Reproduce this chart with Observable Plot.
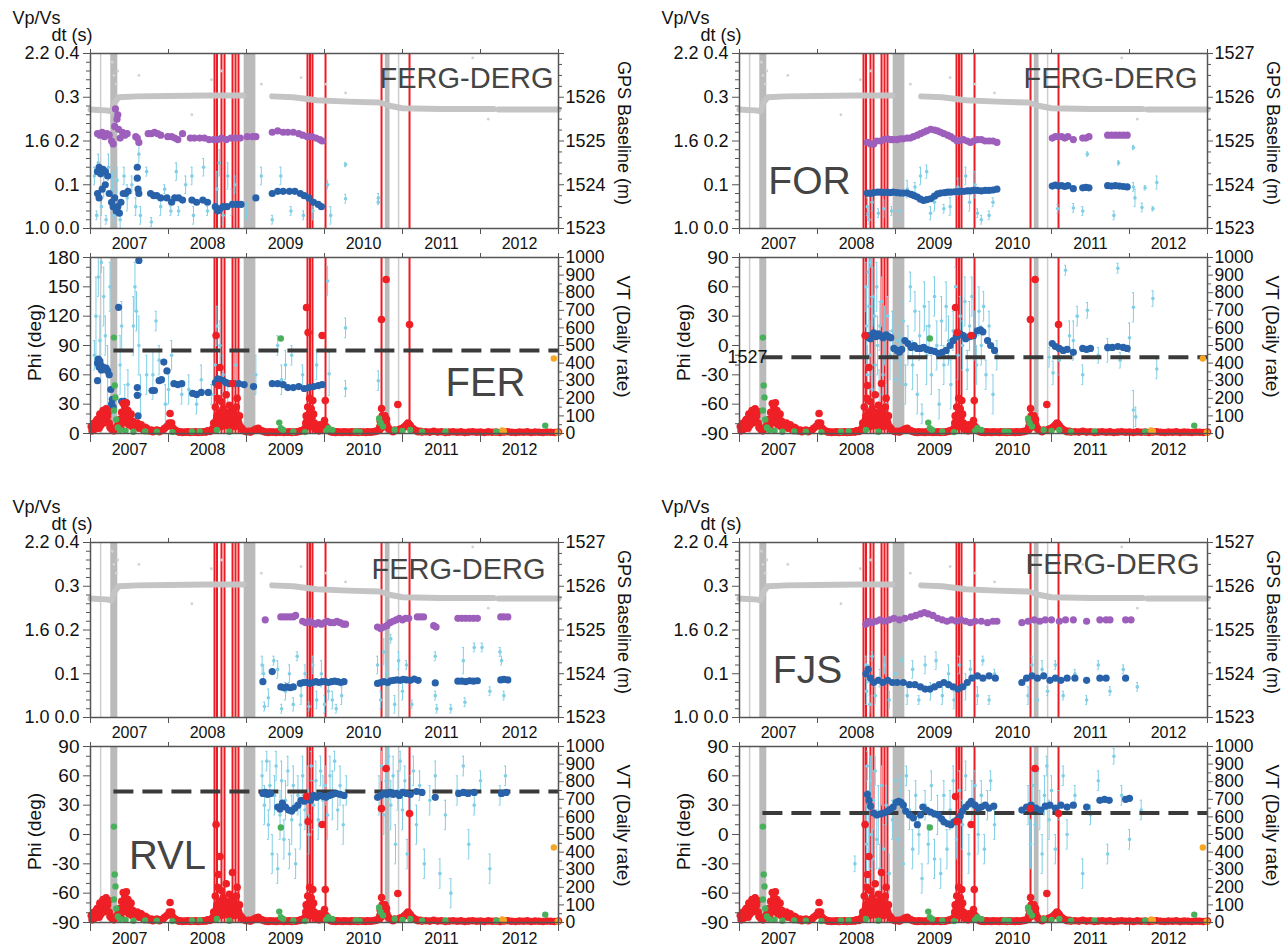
<!DOCTYPE html>
<html><head><meta charset="utf-8">
<script src="https://cdn.jsdelivr.net/npm/d3@7"></script>
<script src="https://cdn.jsdelivr.net/npm/@observablehq/plot@0.6"></script>
<style>
body{margin:0;background:#fff;}
#root{position:relative;width:1285px;height:950px;overflow:hidden;background:#fff;}
</style></head><body><div id="root"></div>
<script>
// ---------------- shared data ----------------
const yearTicks = [2007, 2008, 2009, 2010, 2011, 2012, 2013];
const yearLabels = ["2007", "2008", "2009", "2010", "2011", "2012"];
const yearLabelPos = [2007.5, 2008.5, 2009.5, 2010.5, 2011.5, 2012.5];
const dtTicks = [0, 0.1, 0.2, 0.3, 0.4];
const dtTickLabels = ["0.0", "0.1", "0.2", "0.3", "0.4"];
const vpvsTickLabels = ["1.0", null, "1.6", null, "2.2"];
const dtMinor = [0.02,0.04,0.06,0.08,0.12,0.14,0.16,0.18,0.22,0.24,0.26,0.28,0.32,0.34,0.36,0.38];
const vpvsRange = [1.0, 2.2];
const gpsRange = [1523, 1527];
const gpsTicks = [1523, 1524, 1525, 1526, 1527];
const gpsMinor = [1523.25,1523.5,1523.75,1524.25,1524.5,1524.75,1525.25,1525.5,1525.75,1526.25,1526.5,1526.75];
const vtRange = [0, 1000];
const vtTicks = [0, 100, 200, 300, 400, 500, 600, 700, 800, 900, 1000];
const vtMinor = [50, 150, 250, 350, 450, 550, 650, 750, 850, 950];
const phiTicksFER = [0, 30, 60, 90, 120, 150, 180];
const phiMinorFER = [10,20,40,50,70,80,100,110,130,140,160,170];
const phiTicksSym = [-90, -60, -30, 0, 30, 60, 90];
const phiMinorSym = [-80,-70,-50,-40,-20,-10,10,20,40,50,70,80];
const dashStartYear = 2007.3;

const redLines = [2008.59, 2008.622, 2008.679, 2008.718, 2008.821, 2008.859, 2008.897, 2009.782, 2009.814, 2009.846, 2010.013, 2010.731, 2011.09];
const grayBands = [[2007.26, 2007.35], [2008.97, 2009.12], [2010.78, 2010.84]];
const thinGrayLines = [2007.13, 2010.95];

const gpsBaseline = [[2007.0,1525.72],[2007.1,1525.71],[2007.2,1525.70],[2007.27,1525.68],[2007.31,1525.88],[2007.36,1526.0],[2007.6,1526.02],[2008.0,1526.03],[2008.5,1526.04],[2008.96,1526.04],[2009.1,null],[2009.33,1526.02],[2009.6,1526.0],[2009.9,1525.93],[2010.3,1525.9],[2010.7,1525.88],[2010.85,1525.8],[2011.0,1525.75],[2011.5,1525.73],[2012.17,1525.73],[2012.2,null],[2012.23,1525.72],[2013.0,1525.72]];
const gpsOutliers = [[2007.28,1526.8],[2007.30,1526.5],[2007.33,1526.3],[2007.35,1526.6],[2007.62,1526.5],[2008.30,1525.6],[2008.55,1526.4],[2008.68,1526.6],[2009.19,1526.3],[2009.70,1526.45],[2010.02,1526.3],[2010.27,1526.1],[2011.4,1526.5],[2011.9,1526.9],[2012.1,1525.5],[2012.7,1526.6]];

const vtRed = [[2007.01,40],[2007.02,15],[2007.03,20],[2007.04,55],[2007.05,60],[2007.06,25],[2007.07,30],[2007.08,75],[2007.09,80],[2007.10,50],[2007.11,30],[2007.12,110],[2007.13,45],[2007.14,70],[2007.15,95],[2007.16,130],[2007.17,60],[2007.18,90],[2007.19,115],[2007.20,140],[2007.21,70],[2007.22,100],[2007.23,125],[2007.24,60],[2007.25,35],[2007.26,30],[2007.28,20],[2007.30,15],[2007.32,25],
[2007.34,40],[2007.36,60],[2007.38,80],[2007.39,30],[2007.40,120],[2007.41,60],[2007.42,170],[2007.43,90],[2007.44,150],[2007.45,110],[2007.46,175],[2007.47,70],[2007.48,130],[2007.49,50],[2007.50,90],[2007.52,110],[2007.53,40],[2007.54,70],[2007.56,50],[2007.58,40],[2007.60,60],[2007.62,30],[2007.65,50],[2007.68,20],[2007.70,35],[2007.72,30],[2007.75,15],[2007.78,20],[2007.80,10],[2007.83,15],[2007.85,20],[2007.88,10],[2007.90,15],[2007.93,20],[2007.95,30],[2007.98,40],[2008.01,60],[2008.02,114],[2008.04,60],[2008.06,30],[2008.08,20],[2008.10,15],[2008.13,8],[2008.15,10],[2008.18,6],[2008.20,8],[2008.23,7],[2008.25,10],[2008.28,6],[2008.30,8],[2008.33,7],[2008.35,10],[2008.38,6],[2008.40,8],[2008.43,7],[2008.45,10],[2008.48,8],[2008.50,15],[2008.53,12],[2008.55,20],[2008.57,30],
[2008.58,60],[2008.59,30],[2008.60,150],[2008.61,557],[2008.615,80],[2008.62,100],[2008.63,200],[2008.635,50],[2008.64,273],[2008.65,120],[2008.655,60],[2008.66,375],[2008.67,90],[2008.675,40],[2008.68,180],[2008.69,70],[2008.70,140],[2008.71,50],[2008.72,80],[2008.73,120],[2008.74,220],[2008.75,60],[2008.76,110],[2008.77,40],[2008.78,160],[2008.79,90],[2008.80,70],[2008.81,130],[2008.82,284],[2008.83,60],[2008.84,120],[2008.85,40],[2008.86,90],[2008.87,150],[2008.88,200],[2008.89,80],[2008.90,60],[2008.91,100],[2008.92,40],[2008.94,30],[2008.95,20],[2008.97,15],[2009.00,10],[2009.03,12],[2009.05,8],[2009.08,15],[2009.10,20],[2009.12,25],[2009.15,30],[2009.17,20],[2009.20,15],[2009.23,10],[2009.25,8],[2009.28,6],[2009.30,10],[2009.33,7],[2009.35,8],[2009.38,6],[2009.40,10],[2009.43,7],[2009.45,12],[2009.48,6],[2009.50,8],[2009.53,7],[2009.55,10],[2009.58,6],[2009.60,8],[2009.63,7],[2009.65,10],[2009.68,12],[2009.70,15],[2009.73,20],[2009.75,30],
[2009.76,60],[2009.765,100],[2009.77,716],[2009.775,40],[2009.78,80],[2009.785,150],[2009.79,574],[2009.795,60],[2009.80,110],[2009.81,200],[2009.815,50],[2009.82,120],[2009.825,80],[2009.83,140],[2009.835,40],[2009.84,90],[2009.85,187],[2009.86,110],[2009.87,60],[2009.88,30],[2009.89,40],[2009.90,20],[2009.91,30],[2009.93,15],[2009.94,50],[2009.95,25],[2009.97,557],[2009.98,40],[2009.99,20],[2010.00,74],[2010.01,187],[2010.02,40],[2010.03,20],[2010.04,30],[2010.06,15],[2010.08,10],[2010.10,8],[2010.12,8],[2010.14,6],[2010.16,10],[2010.18,7],[2010.20,8],[2010.23,6],[2010.25,10],[2010.28,7],[2010.30,8],[2010.33,6],[2010.35,10],[2010.38,7],[2010.40,8],[2010.43,6],[2010.45,10],[2010.48,7],[2010.50,8],[2010.53,6],[2010.55,10],[2010.58,7],[2010.60,8],[2010.63,10],[2010.65,12],[2010.68,15],[2010.70,20],
[2010.71,40],[2010.715,70],[2010.72,80],[2010.725,30],[2010.73,648],[2010.732,142],[2010.74,100],[2010.745,50],[2010.75,60],[2010.755,90],[2010.76,90],[2010.765,40],[2010.77,70],[2010.775,100],[2010.79,875],[2010.785,60],[2010.795,80],[2010.80,50],[2010.82,30],[2010.84,20],[2010.86,15],[2010.88,10],[2010.90,20],[2010.94,165],[2010.95,20],[2010.97,25],[2011.00,30],[2011.02,35],[2011.03,40],[2011.05,50],[2011.06,45],[2011.07,60],[2011.08,55],[2011.09,619],[2011.10,45],[2011.11,35],[2011.12,30],[2011.14,25],[2011.15,20],[2011.18,15],[2011.20,10],[2011.23,12],[2011.25,8],
[2011.30,10],[2011.35,8],[2011.40,12],[2011.45,8],[2011.50,10],[2011.55,6],[2011.60,8],[2011.65,10],[2011.70,7],[2011.75,9],[2011.80,6],[2011.85,8],[2011.90,10],[2011.95,7],[2012.00,8],[2012.05,6],[2012.10,9],[2012.15,7],[2012.20,8],[2012.25,6],[2012.30,8],[2012.35,10],[2012.40,7],[2012.45,6],[2012.50,8],[2012.55,7],[2012.60,9],[2012.65,6],[2012.70,8],[2012.75,7],[2012.80,6],[2012.85,8],[2012.90,7],[2012.95,6],[2013.0,8]];
const vtGreen = [[2007.30,545],[2007.31,273],[2007.32,205],[2007.30,131],[2007.33,80],[2007.35,34],[2007.38,20],[2007.45,15],[2007.55,10],[2007.70,12],[2007.85,10],[2008.05,8],[2008.30,10],[2008.40,12],[2008.62,20],[2008.78,10],[2009.44,540],[2009.42,62],[2009.44,30],[2009.47,20],[2009.60,10],[2009.75,8],[2010.02,15],[2010.05,30],[2010.10,20],[2010.40,12],[2010.45,10],[2010.70,85],[2010.72,60],[2010.75,40],[2010.90,20],[2011.00,15],[2011.10,20],[2011.25,10],[2011.55,12],[2012.20,10],[2012.83,45]];
const vtOrange = [[2012.28,17],[2012.30,12],[2012.94,426],[2012.99,6]];

// ---------------- station data ----------------
const stationNames = ["FER", "FOR", "RVL", "FJS"];
const dashLevels = [85, -12, 44, 22];
const phiDomains = [[0, 180], [-90, 90], [-90, 90], [-90, 90]];

const ferVpvs = [[2007.09,1.65],[2007.12,1.64],[2007.15,1.66],[2007.18,1.63],[2007.21,1.65],[2007.24,1.64],[2007.27,1.60],[2007.29,1.58],[2007.31,1.70],[2007.32,1.82],[2007.34,1.75],[2007.35,1.78],[2007.36,1.68],[2007.38,1.62],[2007.41,1.66],[2007.44,1.64],[2007.47,1.65],[2007.58,1.63],[2007.60,1.62],[2007.62,1.59],[2007.74,1.65],[2007.78,1.65],[2007.82,1.66],[2007.86,1.65],[2007.90,1.64],[2007.99,1.63],[2008.04,1.63],[2008.08,1.62],[2008.12,1.61],[2008.18,1.65],[2008.28,1.62],[2008.33,1.62],[2008.40,1.62],[2008.46,1.62],[2008.52,1.61],[2008.58,1.61],[2008.63,1.61],[2008.68,1.62],[2008.74,1.61],[2008.80,1.62],[2008.86,1.62],[2008.92,1.62],[2009.01,1.63],[2009.08,1.63],[2009.12,1.63],[2009.33,1.66],[2009.40,1.67],[2009.47,1.66],[2009.53,1.66],[2009.60,1.66],[2009.67,1.65],[2009.72,1.64],[2009.78,1.63],[2009.84,1.63],[2009.89,1.62],[2009.94,1.61],[2009.97,1.60]];
const ferDt = [[2007.09,0.13],[2007.11,0.14],[2007.13,0.125],[2007.16,0.135],[2007.19,0.13],[2007.22,0.12],[2007.09,0.08],[2007.11,0.07],[2007.15,0.09],[2007.19,0.10],[2007.24,0.08],[2007.27,0.06],[2007.29,0.05],[2007.31,0.07],[2007.33,0.04],[2007.35,0.05],[2007.37,0.035],[2007.39,0.06],[2007.42,0.08],[2007.45,0.08],[2007.48,0.085],[2007.60,0.14],[2007.60,0.115],[2007.61,0.09],[2007.62,0.08],[2007.77,0.08],[2007.81,0.075],[2007.85,0.075],[2007.90,0.07],[2007.98,0.07],[2008.04,0.06],[2008.08,0.07],[2008.13,0.07],[2008.18,0.065],[2008.30,0.065],[2008.36,0.06],[2008.44,0.065],[2008.50,0.06],[2008.60,0.05],[2008.63,0.04],[2008.66,0.045],[2008.70,0.05],[2008.75,0.05],[2008.82,0.055],[2008.88,0.055],[2008.93,0.055],[2009.12,0.07],[2009.33,0.08],[2009.40,0.085],[2009.47,0.085],[2009.55,0.085],[2009.62,0.085],[2009.69,0.08],[2009.74,0.075],[2009.80,0.07],[2009.86,0.06],[2009.92,0.055],[2009.96,0.05]];
const ferDtErr = [[2007.05,0.12,0.02],[2007.08,0.03,0.01],[2007.10,0.15,0.02],[2007.14,0.05,0.02],[2007.17,0.10,0.03],[2007.20,0.02,0.01],[2007.23,0.14,0.03],[2007.28,0.09,0.04],[2007.30,0.03,0.02],[2007.34,0.11,0.03],[2007.38,0.02,0.02],[2007.43,0.12,0.02],[2007.47,0.07,0.03],[2007.53,0.10,0.02],[2007.58,0.05,0.02],[2007.62,0.17,0.02],[2007.64,0.03,0.02],[2007.72,0.13,0.01],[2007.78,0.015,0.01],[2007.90,0.05,0.02],[2007.95,0.09,0.01],[2008.03,0.04,0.01],[2008.10,0.13,0.02],[2008.13,0.04,0.01],[2008.22,0.10,0.02],[2008.30,0.12,0.02],[2008.32,0.03,0.02],[2008.45,0.14,0.02],[2008.50,0.04,0.01],[2008.62,0.09,0.04],[2008.65,0.15,0.03],[2008.70,0.03,0.02],[2008.76,0.12,0.03],[2008.81,0.06,0.03],[2008.85,0.10,0.02],[2009.00,0.04,0.02],[2009.19,0.12,0.02],[2009.33,0.02,0.01],[2009.44,0.12,0.02],[2009.57,0.04,0.01],[2009.73,0.03,0.01],[2009.85,0.04,0.02],[2010.04,0.10,0.01],[2010.08,0.03,0.02],[2010.27,0.146,0.005],[2010.27,0.068,0.01],[2010.69,0.07,0.01],[2010.69,0.06,0.005]];
const ferPhi = [[2007.09,72],[2007.10,76],[2007.11,68],[2007.12,74],[2007.13,70],[2007.14,65],[2007.16,68],[2007.18,66],[2007.20,67],[2007.22,64],[2007.24,60],[2007.09,54],[2007.26,45],[2007.27,30],[2007.28,35],[2007.29,27],[2007.36,129],[2007.40,33],[2007.43,33],[2007.46,31],[2007.60,39],[2007.60,47],[2007.61,18],[2007.62,177],[2007.79,44],[2007.82,44],[2007.88,54],[2007.91,55],[2007.94,73],[2007.98,64],[2008.07,51],[2008.12,50],[2008.17,51],[2008.31,41],[2008.36,40],[2008.42,42],[2008.51,42],[2008.60,52],[2008.63,56],[2008.66,55],[2008.70,54],[2008.74,52],[2008.78,51],[2008.83,51],[2008.90,51],[2008.97,50],[2009.09,48],[2009.33,51],[2009.40,51],[2009.47,50],[2009.53,47],[2009.60,47],[2009.67,48],[2009.74,46],[2009.80,47],[2009.86,48],[2009.92,49],[2009.97,50]];
const ferPhiErr = [[2007.05,80,15],[2007.07,120,40],[2007.10,160,20],[2007.12,95,25],[2007.14,175,10],[2007.17,140,30],[2007.19,100,20],[2007.22,60,30],[2007.25,150,25],[2007.27,20,15],[2007.38,70,30],[2007.40,110,25],[2007.44,30,20],[2007.48,50,15],[2007.55,110,30],[2007.57,150,25],[2007.59,125,20],[2007.62,90,30],[2007.64,40,20],[2007.72,60,20],[2007.80,60,25],[2007.84,115,10],[2007.88,75,15],[2007.96,30,20],[2008.00,45,15],[2008.04,80,15],[2008.17,40,10],[2008.26,45,15],[2008.36,30,10],[2008.42,55,15],[2008.55,40,10],[2008.60,70,30],[2008.62,110,20],[2008.66,90,25],[2008.70,60,20],[2008.76,40,15],[2008.86,70,15],[2009.12,60,20],[2009.40,90,10],[2009.45,55,15],[2009.50,70,15],[2009.58,80,10],[2009.72,60,10],[2009.90,70,15],[2010.04,156,15],[2010.06,61,22],[2010.27,108,10],[2010.27,46,8],[2010.69,54,10]];

const forVpvs = [[2008.64,1.59],[2008.68,1.58],[2008.72,1.58],[2008.76,1.60],[2008.81,1.60],[2008.85,1.61],[2008.90,1.615],[2008.94,1.61],[2008.97,1.61],[2009.02,1.61],[2009.06,1.615],[2009.10,1.615],[2009.15,1.62],[2009.19,1.62],[2009.23,1.63],[2009.28,1.64],[2009.32,1.65],[2009.36,1.66],[2009.40,1.67],[2009.45,1.68],[2009.50,1.675],[2009.54,1.67],[2009.58,1.66],[2009.62,1.65],[2009.67,1.64],[2009.71,1.63],[2009.75,1.615],[2009.79,1.60],[2009.83,1.605],[2009.87,1.61],[2009.92,1.60],[2009.96,1.59],[2010.00,1.60],[2010.05,1.61],[2010.10,1.61],[2010.15,1.60],[2010.20,1.60],[2010.25,1.60],[2010.30,1.59],[2011.01,1.62],[2011.05,1.63],[2011.09,1.63],[2011.13,1.63],[2011.17,1.62],[2011.21,1.63],[2011.28,1.61],[2011.40,1.62],[2011.44,1.62],[2011.48,1.63],[2011.72,1.64],[2011.77,1.64],[2011.82,1.64],[2011.87,1.64],[2011.92,1.64],[2011.97,1.64]];
const forDt = [[2008.64,0.081],[2008.68,0.08],[2008.72,0.082],[2008.77,0.083],[2008.81,0.083],[2008.85,0.082],[2008.89,0.083],[2008.93,0.082],[2008.97,0.083],[2009.02,0.082],[2009.06,0.081],[2009.10,0.081],[2009.15,0.081],[2009.20,0.078],[2009.24,0.075],[2009.28,0.072],[2009.32,0.067],[2009.36,0.064],[2009.40,0.066],[2009.45,0.068],[2009.50,0.074],[2009.54,0.079],[2009.58,0.081],[2009.63,0.082],[2009.67,0.083],[2009.71,0.083],[2009.76,0.084],[2009.80,0.084],[2009.84,0.085],[2009.88,0.085],[2009.92,0.086],[2009.96,0.086],[2010.00,0.087],[2010.05,0.087],[2010.10,0.086],[2010.15,0.087],[2010.20,0.087],[2010.25,0.088],[2010.30,0.09],[2011.01,0.097],[2011.05,0.099],[2011.09,0.097],[2011.13,0.098],[2011.17,0.096],[2011.21,0.098],[2011.28,0.091],[2011.40,0.093],[2011.44,0.094],[2011.48,0.093],[2011.72,0.098],[2011.77,0.097],[2011.82,0.098],[2011.87,0.097],[2011.92,0.096],[2011.97,0.095]];
const forDtErr = [[2008.64,0.05,0.02],[2008.65,0.035,0.01],[2008.66,0.02,0.01],[2008.70,0.06,0.02],[2008.78,0.035,0.01],[2008.85,0.045,0.02],[2008.95,0.04,0.01],[2009.05,0.04,0.02],[2009.15,0.09,0.02],[2009.25,0.095,0.01],[2009.32,0.12,0.02],[2009.40,0.13,0.015],[2009.45,0.035,0.015],[2009.50,0.06,0.02],[2009.62,0.045,0.01],[2009.70,0.05,0.02],[2009.80,0.095,0.02],[2009.90,0.12,0.02],[2009.95,0.06,0.02],[2010.02,0.10,0.03],[2010.05,0.035,0.01],[2010.10,0.02,0.01],[2010.20,0.03,0.01],[2010.25,0.06,0.01],[2011.08,0.045,0.01],[2011.28,0.047,0.01],[2011.40,0.04,0.01],[2011.46,0.17,0.005],[2011.80,0.03,0.01],[2011.86,0.15,0.005],[2012.05,0.185,0.005],[2012.05,0.095,0.01],[2012.07,0.07,0.02],[2012.16,0.048,0.01],[2012.20,0.093,0.005],[2012.35,0.105,0.015],[2012.30,0.045,0.005]];
const forPhi = [[2008.64,10],[2008.66,8],[2008.68,7],[2008.70,11],[2008.72,13],[2008.75,9],[2008.78,12],[2008.81,10],[2008.84,8],[2008.88,11],[2008.91,9],[2008.94,8],[2008.98,-3],[2009.02,-5],[2009.05,-7],[2009.08,-4],[2009.12,5],[2009.16,2],[2009.20,-2],[2009.24,0],[2009.28,-3],[2009.32,-3],[2009.36,-2],[2009.40,-4],[2009.45,-5],[2009.50,-6],[2009.55,-8],[2009.60,-7],[2009.65,-5],[2009.70,0],[2009.74,5],[2009.78,9],[2009.83,12],[2009.87,10],[2009.90,7],[2009.95,9],[2010.00,10],[2010.05,15],[2010.09,16],[2010.12,14],[2010.18,5],[2010.22,0],[2010.27,-5],[2011.01,2],[2011.05,-1],[2011.10,-3],[2011.15,-5],[2011.20,-4],[2011.28,-7],[2011.40,-3],[2011.45,-4],[2011.50,-3],[2011.72,-2],[2011.78,-2],[2011.85,-1],[2011.92,-2],[2011.97,-3]];
const forPhiErr = [[2008.62,60,25],[2008.63,20,40],[2008.64,-30,30],[2008.65,75,15],[2008.66,40,30],[2008.67,-10,35],[2008.68,85,5],[2008.69,10,40],[2008.70,-45,25],[2008.71,50,30],[2008.73,30,20],[2008.74,-20,30],[2008.76,60,25],[2008.77,0,30],[2008.79,-50,25],[2008.80,20,25],[2008.82,45,25],[2008.84,-30,20],[2008.86,10,30],[2008.88,-60,20],[2008.90,30,20],[2008.93,-10,25],[2008.96,15,20],[2009.00,-35,20],[2009.03,5,15],[2009.06,-15,25],[2009.10,25,20],[2009.13,-40,20],[2009.16,0,20],[2009.19,60,15],[2009.22,-20,25],[2009.25,35,20],[2009.28,-50,20],[2009.31,10,25],[2009.34,-70,10],[2009.37,40,25],[2009.40,-10,30],[2009.43,20,25],[2009.46,-30,20],[2009.50,50,20],[2009.53,0,25],[2009.56,-60,15],[2009.59,25,25],[2009.62,-20,20],[2009.65,40,25],[2009.68,5,25],[2009.71,-40,25],[2009.74,15,20],[2009.77,60,20],[2009.80,-10,25],[2009.83,30,20],[2009.86,0,25],[2009.89,45,25],[2009.92,-25,20],[2009.95,20,25],[2009.98,50,20],[2010.01,10,25],[2010.04,-20,20],[2010.07,35,25],[2010.10,0,20],[2010.13,40,15],[2010.16,-30,15],[2010.20,20,15],[2010.25,-50,20],[2010.30,-10,15],[2010.97,-12,10],[2011.02,-28,12],[2011.10,-15,15],[2011.18,77,5],[2011.23,10,15],[2011.28,5,20],[2011.33,30,10],[2011.40,-30,10],[2011.46,36,8],[2011.60,-10,8],[2011.72,-5,12],[2011.85,79,5],[2011.88,-15,8],[2012.00,8,15],[2012.05,39,15],[2012.05,-66,20],[2012.08,-73,10],[2012.30,48,8],[2012.35,-24,10]];

const rvlVpvs = [[2009.24,1.67],[2009.44,1.69],[2009.48,1.69],[2009.52,1.69],[2009.56,1.69],[2009.60,1.69],[2009.63,1.70],[2009.72,1.66],[2009.76,1.65],[2009.80,1.66],[2009.84,1.65],[2009.88,1.64],[2009.92,1.65],[2009.96,1.64],[2010.00,1.65],[2010.04,1.66],[2010.08,1.65],[2010.12,1.65],[2010.16,1.66],[2010.20,1.65],[2010.24,1.64],[2010.27,1.64],[2010.68,1.62],[2010.72,1.61],[2010.76,1.62],[2010.80,1.63],[2010.84,1.65],[2010.88,1.66],[2010.92,1.67],[2010.96,1.68],[2011.00,1.67],[2011.04,1.68],[2011.08,1.68],[2011.19,1.69],[2011.23,1.69],[2011.27,1.69],[2011.40,1.63],[2011.43,1.62],[2011.71,1.68],[2011.76,1.68],[2011.81,1.68],[2011.86,1.68],[2011.91,1.68],[2011.96,1.68],[2012.26,1.69],[2012.30,1.69],[2012.35,1.69]];
const rvlDt = [[2009.21,0.082],[2009.33,0.105],[2009.44,0.07],[2009.48,0.068],[2009.52,0.07],[2009.56,0.068],[2009.60,0.07],[2009.69,0.078],[2009.73,0.08],[2009.77,0.08],[2009.81,0.078],[2009.85,0.08],[2009.89,0.082],[2009.93,0.08],[2009.97,0.082],[2010.01,0.082],[2010.05,0.08],[2010.09,0.082],[2010.13,0.083],[2010.17,0.082],[2010.21,0.08],[2010.25,0.082],[2010.68,0.078],[2010.72,0.08],[2010.76,0.082],[2010.81,0.08],[2010.85,0.084],[2010.89,0.085],[2010.93,0.086],[2010.97,0.085],[2011.01,0.087],[2011.05,0.086],[2011.10,0.085],[2011.15,0.088],[2011.20,0.085],[2011.42,0.079],[2011.71,0.083],[2011.76,0.083],[2011.81,0.082],[2011.86,0.084],[2011.91,0.083],[2011.96,0.084],[2012.26,0.086],[2012.30,0.087],[2012.35,0.086]];
const rvlDtErr = [[2009.20,0.12,0.02],[2009.22,0.10,0.02],[2009.23,0.025,0.01],[2009.28,0.045,0.02],[2009.35,0.13,0.01],[2009.40,0.11,0.02],[2009.45,0.02,0.01],[2009.50,0.06,0.02],[2009.55,0.10,0.02],[2009.60,0.03,0.015],[2009.65,0.14,0.01],[2009.70,0.05,0.02],[2009.75,0.10,0.02],[2009.80,0.025,0.01],[2009.85,0.12,0.02],[2009.90,0.04,0.02],[2009.96,0.10,0.03],[2010.00,0.03,0.02],[2010.05,0.06,0.02],[2010.10,0.04,0.02],[2010.15,0.02,0.01],[2010.22,0.05,0.02],[2010.68,0.12,0.02],[2010.72,0.04,0.02],[2010.76,0.15,0.03],[2010.80,0.10,0.03],[2010.85,0.18,0.01],[2010.90,0.03,0.02],[2010.95,0.13,0.02],[2011.00,0.06,0.02],[2011.05,0.12,0.01],[2011.12,0.03,0.01],[2011.42,0.14,0.01],[2011.42,0.05,0.01],[2011.44,0.02,0.01],[2011.62,0.02,0.01],[2011.78,0.13,0.03],[2011.80,0.035,0.01],[2011.92,0.16,0.01],[2012.02,0.16,0.01],[2012.12,0.06,0.01],[2012.25,0.15,0.01],[2012.27,0.13,0.01],[2012.30,0.05,0.01]];
const rvlPhi = [[2009.21,42],[2009.24,43],[2009.27,41],[2009.31,42],[2009.40,28],[2009.43,26],[2009.46,32],[2009.50,28],[2009.54,25],[2009.58,24],[2009.62,27],[2009.66,30],[2009.70,35],[2009.74,34],[2009.78,36],[2009.82,35],[2009.86,40],[2009.90,38],[2009.94,40],[2009.98,39],[2010.02,38],[2010.06,40],[2010.10,41],[2010.15,42],[2010.20,41],[2010.25,40],[2010.68,38],[2010.72,40],[2010.76,42],[2010.80,41],[2010.84,43],[2010.88,41],[2010.92,42],[2010.96,40],[2011.00,43],[2011.05,42],[2011.10,41],[2011.18,44],[2011.25,43],[2011.42,38],[2011.72,42],[2011.78,43],[2011.84,42],[2011.92,43],[2012.27,42],[2012.33,43]];
const rvlPhiErr = [[2009.20,60,15],[2009.23,30,20],[2009.26,75,10],[2009.28,10,15],[2009.30,50,25],[2009.33,-20,20],[2009.36,40,20],[2009.38,70,15],[2009.40,-35,15],[2009.43,20,25],[2009.45,55,20],[2009.48,-5,20],[2009.50,35,20],[2009.53,65,15],[2009.55,-20,15],[2009.58,15,25],[2009.60,50,20],[2009.63,-30,15],[2009.66,40,20],[2009.69,10,25],[2009.72,60,20],[2009.75,25,20],[2009.78,45,25],[2009.80,0,20],[2009.83,70,15],[2009.86,30,25],[2009.89,55,20],[2009.92,15,20],[2009.95,65,15],[2009.98,35,25],[2010.01,50,20],[2010.04,20,25],[2010.07,60,20],[2010.10,40,25],[2010.13,75,10],[2010.17,25,20],[2010.20,50,20],[2010.24,10,20],[2010.28,45,15],[2010.70,40,20],[2010.73,70,15],[2010.76,20,20],[2010.79,55,20],[2010.82,80,10],[2010.85,30,25],[2010.88,60,20],[2010.91,-10,20],[2010.94,45,20],[2010.97,75,10],[2011.00,25,20],[2011.03,55,15],[2011.06,-20,15],[2011.10,40,20],[2011.14,65,15],[2011.18,10,20],[2011.22,50,15],[2011.28,-30,15],[2011.35,35,15],[2011.42,60,15],[2011.48,-40,15],[2011.55,20,15],[2011.62,-60,15],[2011.70,45,15],[2011.78,70,10],[2011.85,-10,15],[2011.92,30,10],[2012.00,55,10],[2012.12,-35,15],[2012.25,40,10],[2012.32,60,10]];

const fjsVpvs = [[2008.62,1.64],[2008.66,1.66],[2008.70,1.65],[2008.75,1.66],[2008.80,1.67],[2008.86,1.66],[2008.92,1.67],[2008.98,1.68],[2009.05,1.67],[2009.12,1.68],[2009.20,1.69],[2009.26,1.70],[2009.32,1.71],[2009.37,1.72],[2009.42,1.71],[2009.48,1.70],[2009.54,1.68],[2009.60,1.67],[2009.66,1.66],[2009.72,1.67],[2009.78,1.66],[2009.84,1.67],[2009.90,1.66],[2009.96,1.65],[2010.02,1.66],[2010.10,1.66],[2010.18,1.65],[2010.25,1.66],[2010.30,1.66],[2010.62,1.65],[2010.70,1.66],[2010.78,1.67],[2010.85,1.66],[2010.92,1.67],[2011.00,1.67],[2011.10,1.66],[2011.18,1.67],[2011.28,1.67],[2011.45,1.66],[2011.62,1.67],[2011.70,1.67],[2011.75,1.67],[2011.95,1.67],[2012.02,1.67]];
const fjsDt = [[2008.62,0.10],[2008.65,0.11],[2008.68,0.09],[2008.72,0.08],[2008.78,0.085],[2008.84,0.08],[2008.90,0.085],[2008.96,0.08],[2009.02,0.08],[2009.10,0.08],[2009.18,0.075],[2009.25,0.075],[2009.32,0.07],[2009.38,0.065],[2009.44,0.065],[2009.50,0.07],[2009.56,0.075],[2009.62,0.08],[2009.68,0.075],[2009.74,0.07],[2009.80,0.065],[2009.86,0.07],[2009.92,0.08],[2009.98,0.09],[2010.05,0.095],[2010.12,0.09],[2010.20,0.095],[2010.28,0.09],[2010.62,0.08],[2010.68,0.09],[2010.75,0.095],[2010.82,0.09],[2010.90,0.095],[2010.98,0.085],[2011.05,0.09],[2011.12,0.085],[2011.20,0.09],[2011.30,0.09],[2011.45,0.085],[2011.62,0.09],[2011.70,0.09],[2011.95,0.09]];
const fjsDtErr = [[2008.62,0.12,0.02],[2008.63,0.06,0.03],[2008.65,0.10,0.02],[2008.67,0.03,0.02],[2008.70,0.14,0.01],[2008.74,0.05,0.02],[2008.80,0.09,0.02],[2008.86,0.12,0.02],[2008.92,0.04,0.02],[2009.00,0.10,0.02],[2009.08,0.13,0.01],[2009.15,0.05,0.02],[2009.22,0.11,0.02],[2009.30,0.04,0.01],[2009.38,0.12,0.02],[2009.45,0.06,0.02],[2009.52,0.13,0.02],[2009.60,0.05,0.02],[2009.68,0.10,0.02],[2009.75,0.04,0.02],[2009.82,0.12,0.02],[2009.90,0.07,0.03],[2009.96,0.11,0.02],[2010.05,0.05,0.02],[2010.12,0.13,0.01],[2010.20,0.04,0.01],[2010.27,0.10,0.01],[2010.70,0.05,0.02],[2010.75,0.12,0.02],[2010.82,0.04,0.02],[2010.88,0.11,0.02],[2010.95,0.06,0.01],[2011.05,0.12,0.01],[2011.15,0.05,0.01],[2011.30,0.10,0.01],[2011.45,0.04,0.01],[2011.60,0.12,0.01],[2011.75,0.06,0.01],[2011.92,0.11,0.01],[2012.10,0.07,0.01]];
const fjsPhi = [[2008.64,41],[2008.66,35],[2008.68,29],[2008.72,22],[2008.76,20],[2008.81,21],[2008.85,22],[2008.90,24],[2008.94,26],[2008.97,28],[2009.01,33],[2009.04,34],[2009.07,33],[2009.10,30],[2009.13,24],[2009.18,20],[2009.23,17],[2009.28,10],[2009.32,20],[2009.35,28],[2009.40,25],[2009.45,23],[2009.50,21],[2009.55,20],[2009.59,16],[2009.62,13],[2009.67,11],[2009.71,10],[2009.75,13],[2009.79,15],[2009.83,19],[2009.86,24],[2009.90,28],[2009.94,31],[2009.97,34],[2010.02,30],[2010.06,27],[2010.10,28],[2010.15,30],[2010.20,27],[2010.26,29],[2010.62,25],[2010.68,28],[2010.74,30],[2010.80,27],[2010.86,25],[2010.92,29],[2010.98,30],[2011.05,27],[2011.12,30],[2011.20,28],[2011.28,30],[2011.45,28],[2011.62,35],[2011.68,36],[2011.74,35],[2011.95,36],[2012.00,37]];
const fjsPhiErr = [[2008.48,-30,8],[2008.62,40,30],[2008.63,-10,40],[2008.64,70,15],[2008.65,10,35],[2008.66,-40,25],[2008.68,55,25],[2008.69,0,35],[2008.71,-25,30],[2008.72,35,30],[2008.74,65,15],[2008.76,-5,30],[2008.78,20,30],[2008.80,-35,25],[2008.82,50,20],[2008.85,-15,25],[2008.88,30,20],[2008.92,-40,20],[2008.96,15,20],[2009.00,55,15],[2009.03,-5,20],[2009.06,45,15],[2009.10,-30,15],[2009.14,60,10],[2009.18,25,20],[2009.22,-15,20],[2009.26,40,15],[2009.30,0,20],[2009.34,-45,15],[2009.38,30,15],[2009.42,-10,20],[2009.46,50,15],[2009.50,-25,20],[2009.54,20,20],[2009.58,-40,15],[2009.62,40,15],[2009.66,-15,20],[2009.70,25,20],[2009.74,55,15],[2009.78,-5,20],[2009.82,45,20],[2009.86,10,25],[2009.90,60,15],[2009.94,-20,20],[2009.98,35,20],[2010.02,50,15],[2010.06,0,20],[2010.10,40,15],[2010.14,-15,15],[2010.18,30,15],[2010.22,55,10],[2010.27,10,15],[2010.70,30,20],[2010.73,-10,25],[2010.76,50,20],[2010.79,10,20],[2010.82,65,15],[2010.85,25,20],[2010.88,-20,20],[2010.91,40,20],[2010.94,70,10],[2010.97,15,20],[2011.00,45,15],[2011.05,-15,15],[2011.10,30,15],[2011.15,60,10],[2011.20,0,15],[2011.30,40,10],[2011.40,-40,15],[2011.50,20,10],[2011.60,55,10],[2011.72,-20,10],[2011.80,80,8],[2011.90,40,10],[2012.00,-5,10],[2012.15,25,10]];

// ---------------- layout / style ----------------
const FONT = '"Liberation Sans", Arial, Helvetica, sans-serif';
const C = {band: "#bababa", thin: "#cdcdcd", red: "#ec1c24", gps: "#c4c4c4", gpsOut: "#d2d2d2", cyan: "#80cfe6",
  purple: "#9d5fbb", blue: "#2862aa", redDot: "#ee2026", green: "#49b05a", orange: "#f5a623", frame: "#555", dash: "#3a3a3a", text: "#444"};

const panels = [
  {st: 0, col: 0, row: 0, vpvs: ferVpvs, dt: ferDt, dtErr: ferDtErr, phi: ferPhi, phiErr: ferPhiErr, phiTicks: phiTicksFER, phiMinor: phiMinorFER,
   hide1527: true, labelIn: "bottom", lab: {dx: 395, dy: 126}, ferg: {dx: -5, dy: 25}},
  {st: 1, col: 1, row: 0, vpvs: forVpvs, dt: forDt, dtErr: forDtErr, phi: forPhi, phiErr: forPhiErr, phiTicks: phiTicksSym, phiMinor: phiMinorSym,
   hide1527: false, labelIn: "top", lab: {dx: 70, dy: 128}, ferg: {dx: -10, dy: 25}, stray: true},
  {st: 2, col: 0, row: 1, vpvs: rvlVpvs, dt: rvlDt, dtErr: rvlDtErr, phi: rvlPhi, phiErr: rvlPhiErr, phiTicks: phiTicksSym, phiMinor: phiMinorSym,
   hide1527: false, labelIn: "bottom", lab: {dx: 77, dy: 110}, ferg: {dx: -13, dy: 27}},
  {st: 3, col: 1, row: 1, vpvs: fjsVpvs, dt: fjsDt, dtErr: fjsDtErr, phi: fjsPhi, phiErr: fjsPhiErr, phiTicks: phiTicksSym, phiMinor: phiMinorSym,
   hide1527: false, labelIn: "top", lab: {dx: 68, dy: 128}, ferg: {dx: -8, dy: 22}}
];
const COL_LEFT = [0, 649], COL_W = [640, 636], ROW_TOP = [0, 489];

const vpvsToDt = v => (v - vpvsRange[0]) / (vpvsRange[1] - vpvsRange[0]) * (dtTicks[4] - dtTicks[0]);
const gpsToDt = g => g == null ? NaN : (g - gpsRange[0]) / (gpsRange[1] - gpsRange[0]) * (dtTicks[4] - dtTicks[0]);
const near = (arr, v) => arr.findIndex(a => Math.abs(a - v) < 1e-7);

const root = document.getElementById("root");
function place(el, left, top) {
  el.style.position = "absolute"; el.style.left = left + "px"; el.style.top = top + "px";
  root.appendChild(el);
}
function label(str, o) {
  return Plot.text([str], {text: d => d, textAnchor: "middle", lineAnchor: "middle", fill: "#111", ...o});
}

function errorMarks(data, yf) {
  return [
    Plot.ruleX(data, {x: d => d[0], y1: d => yf(d[1] - d[2]), y2: d => yf(d[1] + d[2]), stroke: C.cyan, strokeWidth: 1}),
    Plot.ruleY(data, {y: d => yf(d[1] + d[2]), x1: d => d[0] - 0.012, x2: d => d[0] + 0.012, stroke: C.cyan, strokeWidth: 1}),
    Plot.ruleY(data, {y: d => yf(d[1] - d[2]), x1: d => d[0] - 0.012, x2: d => d[0] + 0.012, stroke: C.cyan, strokeWidth: 1}),
    Plot.dot(data, {x: d => d[0], y: d => yf(d[1]), r: 1.8, fill: C.cyan})
  ];
}

function xAxes(tickLen, pad) {
  return [
    Plot.axisX({ticks: yearTicks, tickSize: tickLen, tickFormat: () => "", label: null, stroke: C.frame}),
    Plot.axisX({anchor: "top", ticks: yearTicks, tickSize: 5, tickFormat: () => "", label: null, stroke: C.frame}),
    Plot.axisX({ticks: yearLabelPos, tickSize: 0, tickPadding: pad, fontSize: 16, label: null,
      tickFormat: d => yearLabels[near(yearLabelPos, d)]})
  ];
}

function topPlot(p) {
  const W = COL_W[p.col];
  const gpsPos = gpsTicks.map(gpsToDt);
  const marks = [
    Plot.rect(grayBands, {x1: d => d[0], x2: d => d[1], fill: C.band}),
    Plot.ruleX(thinGrayLines, {stroke: C.thin, strokeWidth: 1.5}),
    Plot.ruleX(redLines, {stroke: C.red, strokeWidth: 2}),
    Plot.line(gpsBaseline, {x: d => d[0], y: d => gpsToDt(d[1]), stroke: C.gps, strokeWidth: 6}),
    Plot.dot(gpsOutliers, {x: d => d[0], y: d => gpsToDt(d[1]), r: 1.4, fill: C.gpsOut}),
    ...errorMarks(p.dtErr, v => v),
    Plot.dot(p.vpvs, {x: d => d[0], y: d => vpvsToDt(d[1]), r: 3.6, fill: C.purple}),
    Plot.dot(p.dt, {x: d => d[0], y: d => d[1], r: 3.6, fill: C.blue}),
    Plot.frame({stroke: C.frame, strokeWidth: 1.5}),
    Plot.axisY({ticks: dtTicks, tickSize: 7, tickPadding: 4, fontSize: 18, label: null, stroke: C.frame,
      tickFormat: d => { const i = near(dtTicks, d); return vpvsTickLabels[i] ? vpvsTickLabels[i] + " " + dtTickLabels[i] : dtTickLabels[i]; }}),
    Plot.axisY({ticks: dtMinor, tickSize: 4, tickFormat: () => "", label: null, stroke: C.frame}),
    Plot.axisY({anchor: "right", ticks: gpsPos, tickSize: 5, tickPadding: 2, fontSize: 18, label: null, stroke: C.frame,
      tickFormat: d => { const g = gpsTicks[near(gpsPos, d)]; return (p.hide1527 && g === gpsTicks[4]) ? "" : String(g); }}),
    Plot.axisY({anchor: "right", ticks: gpsMinor.map(gpsToDt), tickSize: 3, tickFormat: () => "", label: null, stroke: C.frame}),
    ...xAxes(6, 9),
    label("Vp/Vs", {frameAnchor: "top-left", dx: -78, dy: -35, textAnchor: "start", fontSize: 18}),
    label("dt (s)", {frameAnchor: "top-left", dx: -39, dy: -18, textAnchor: "start", fontSize: 18}),
    label("GPS Baseline (m)", {frameAnchor: "right", dx: 65, dy: -8, rotate: 90, fontSize: 18}),
    label("FERG-DERG", {frameAnchor: "top-right", dx: p.ferg.dx, dy: p.ferg.dy, textAnchor: "end", fontSize: 29, fill: C.text})
  ];
  if (p.labelIn === "top") marks.push(label(stationNames[p.st], {frameAnchor: "top-left", dx: p.lab.dx, dy: p.lab.dy, fontSize: 39, fill: C.text}));
  return Plot.plot({
    width: W, height: 252, marginLeft: 90, marginRight: W - 90 - 468, marginTop: 53, marginBottom: 24,
    x: {domain: [yearTicks[0], yearTicks[yearTicks.length - 1]]}, y: {domain: [dtTicks[0], dtTicks[4]]},
    style: {fontFamily: FONT, fontSize: "18px", background: "transparent", color: "#111", overflow: "visible"},
    marks
  });
}

function bottomPlot(p) {
  const W = COL_W[p.col];
  const [lo, hi] = phiDomains[p.st];
  const vtToPhi = v => lo + (v - vtRange[0]) / (vtRange[1] - vtRange[0]) * (hi - lo);
  const vtPos = vtTicks.map(vtToPhi);
  const marks = [
    Plot.rect(grayBands, {x1: d => d[0], x2: d => d[1], fill: C.band}),
    Plot.ruleX(thinGrayLines, {stroke: C.thin, strokeWidth: 1.5}),
    Plot.ruleX(redLines, {stroke: C.red, strokeWidth: 2}),
    ...errorMarks(p.phiErr, v => Math.max(lo, Math.min(hi, v))),
    Plot.ruleY([dashLevels[p.st]], {x1: dashStartYear, x2: yearTicks[yearTicks.length - 1], stroke: C.dash, strokeWidth: 4, strokeDasharray: "20,9"}),
    Plot.dot(p.phi, {x: d => d[0], y: d => d[1], r: 3.6, fill: C.blue}),
    Plot.dot(vtRed, {x: d => d[0], y: d => vtToPhi(d[1]), r: 3.8, fill: C.redDot}),
    Plot.dot(vtGreen, {x: d => d[0], y: d => vtToPhi(d[1]), r: 3.2, fill: C.green}),
    Plot.dot(vtOrange, {x: d => d[0], y: d => vtToPhi(d[1]), r: 3.2, fill: C.orange}),
    Plot.frame({stroke: C.frame, strokeWidth: 1.5}),
    Plot.axisY({ticks: p.phiTicks, tickSize: 7, tickPadding: 4, fontSize: 19, label: null, stroke: C.frame, tickFormat: d => String(d)}),
    Plot.axisY({ticks: p.phiMinor, tickSize: 4, tickFormat: () => "", label: null, stroke: C.frame}),
    Plot.axisY({anchor: "right", ticks: vtPos, tickSize: 5, tickPadding: 2, fontSize: 17.5, label: null, stroke: C.frame,
      tickFormat: d => String(vtTicks[near(vtPos, d)])}),
    Plot.axisY({anchor: "right", ticks: vtMinor.map(vtToPhi), tickSize: 3, tickFormat: () => "", label: null, stroke: C.frame}),
    ...xAxes(9, 10),
    label("Phi (deg)", {frameAnchor: "left", dx: -56, dy: -3, rotate: -90, fontSize: 19}),
    label("VT (Daily rate)", {frameAnchor: "right", dx: 65, dy: -9, rotate: 90, fontSize: 19})
  ];
  if (p.labelIn === "bottom") marks.push(label(stationNames[p.st], {frameAnchor: "top-left", dx: p.lab.dx, dy: p.lab.dy, fontSize: 40, fill: C.text}));
  if (p.stray) marks.push(label(String(gpsTicks[4]), {frameAnchor: "top-left", dx: 8, dy: 100, fontSize: 18}));
  return Plot.plot({
    width: W, height: 211, marginLeft: 90, marginRight: W - 90 - 468, marginTop: 5, marginBottom: 30,
    x: {domain: [yearTicks[0], yearTicks[yearTicks.length - 1]]}, y: {domain: [lo, hi]},
    style: {fontFamily: FONT, fontSize: "18px", background: "transparent", color: "#111", overflow: "visible"},
    marks
  });
}

for (const p of panels) {
  place(topPlot(p), COL_LEFT[p.col], ROW_TOP[p.row]);
  place(bottomPlot(p), COL_LEFT[p.col], ROW_TOP[p.row] + 252);
}
</script></body></html>
